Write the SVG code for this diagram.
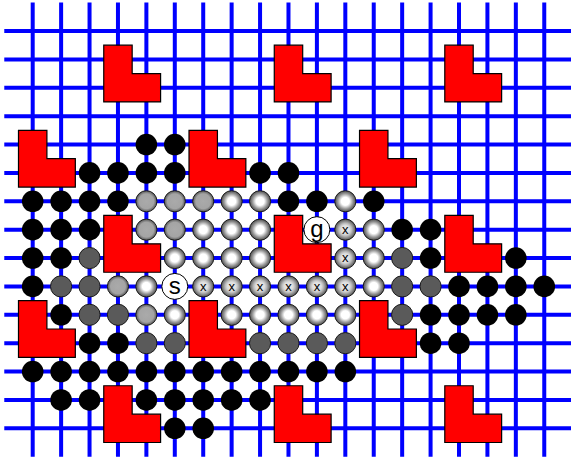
<svg xmlns="http://www.w3.org/2000/svg" xmlns:xlink="http://www.w3.org/1999/xlink" width="571" height="462" viewBox="0 0 571 462">
<style>
.grid{stroke:#0000ff;stroke-width:4;fill:none}
.wall{fill:#ff0000;stroke:#000;stroke-width:1.2;stroke-linejoin:miter}
.lbl{font-family:"Liberation Sans",Arial,sans-serif;fill:#000;text-anchor:middle}
.big{font-size:24px}
.sm{font-size:13px}
</style>
<defs>
<radialGradient id="gOpen" cx="0.5" cy="0.5" r="0.5">
<stop offset="0" stop-color="#fff"/>
<stop offset="0.38" stop-color="#fff"/>
<stop offset="0.52" stop-color="#d6d6d6"/>
<stop offset="0.68" stop-color="#a4a4a4"/>
<stop offset="0.82" stop-color="#7c7c7c"/>
<stop offset="0.93" stop-color="#616161"/>
<stop offset="1" stop-color="#4a4a4a"/>
</radialGradient>
<radialGradient id="gX" cx="0.5" cy="0.5" r="0.5">
<stop offset="0" stop-color="#eee"/>
<stop offset="0.42" stop-color="#dedede"/>
<stop offset="0.6" stop-color="#bcbcbc"/>
<stop offset="0.76" stop-color="#929292"/>
<stop offset="0.9" stop-color="#6c6c6c"/>
<stop offset="1" stop-color="#4a4a4a"/>
</radialGradient>
<radialGradient id="gLight" cx="0.5" cy="0.5" r="0.5">
<stop offset="0" stop-color="#aaa"/>
<stop offset="0.7" stop-color="#a4a4a4"/>
<stop offset="0.85" stop-color="#7c7c7c"/>
<stop offset="1" stop-color="#555"/>
</radialGradient>
<circle id="b" r="10.8" fill="#000"/>
<circle id="d" r="10.6" fill="#5a5a5a" stroke="#1a1a1a" stroke-width="1"/>
<circle id="l" r="10.6" fill="url(#gLight)" stroke="#1a1a1a" stroke-width="1"/>
<circle id="o" r="10.6" fill="url(#gOpen)" stroke="#1a1a1a" stroke-width="1"/>
<circle id="xn" r="10.6" fill="url(#gX)" stroke="#1a1a1a" stroke-width="1"/>
<path id="L" d="M0 0h28.42v28.38h28.42v28.38h-56.84z"/>
</defs>
<rect width="571" height="462" fill="#fff"/>
<g id="grid" class="grid">
<path d="M32.70 2.62V456.7M61.12 2.62V456.7M89.54 2.62V456.7M117.96 2.62V456.7M146.38 2.62V456.7M174.80 2.62V456.7M203.22 2.62V456.7M231.64 2.62V456.7M260.06 2.62V456.7M288.48 2.62V456.7M316.90 2.62V456.7M345.32 2.62V456.7M373.74 2.62V456.7M402.16 2.62V456.7M430.58 2.62V456.7M459.00 2.62V456.7M487.42 2.62V456.7M515.84 2.62V456.7M544.26 2.62V456.7"/>
<path d="M4.28 31.00H572.7M4.28 59.38H572.7M4.28 87.76H572.7M4.28 116.14H572.7M4.28 144.52H572.7M4.28 172.90H572.7M4.28 201.28H572.7M4.28 229.66H572.7M4.28 258.04H572.7M4.28 286.42H572.7M4.28 314.80H572.7M4.28 343.18H572.7M4.28 371.56H572.7M4.28 399.94H572.7M4.28 428.32H572.7"/>
</g>
<g id="black-nodes">
<use href="#b" x="146.38" y="144.52"/><use href="#b" x="174.80" y="144.52"/>
<use href="#b" x="89.54" y="172.90"/><use href="#b" x="117.96" y="172.90"/><use href="#b" x="146.38" y="172.90"/><use href="#b" x="174.80" y="172.90"/><use href="#b" x="260.06" y="172.90"/><use href="#b" x="288.48" y="172.90"/>
<use href="#b" x="32.70" y="201.28"/><use href="#b" x="61.12" y="201.28"/><use href="#b" x="89.54" y="201.28"/><use href="#b" x="117.96" y="201.28"/><use href="#b" x="288.48" y="201.28"/><use href="#b" x="316.90" y="201.28"/><use href="#b" x="373.74" y="201.28"/>
<use href="#b" x="32.70" y="229.66"/><use href="#b" x="61.12" y="229.66"/><use href="#b" x="89.54" y="229.66"/><use href="#b" x="402.16" y="229.66"/><use href="#b" x="430.58" y="229.66"/>
<use href="#b" x="32.70" y="258.04"/><use href="#b" x="61.12" y="258.04"/><use href="#b" x="430.58" y="258.04"/><use href="#b" x="515.84" y="258.04"/>
<use href="#b" x="32.70" y="286.42"/><use href="#b" x="459.00" y="286.42"/><use href="#b" x="487.42" y="286.42"/><use href="#b" x="515.84" y="286.42"/><use href="#b" x="544.26" y="286.42"/>
<use href="#b" x="61.12" y="314.80"/><use href="#b" x="430.58" y="314.80"/><use href="#b" x="459.00" y="314.80"/><use href="#b" x="487.42" y="314.80"/><use href="#b" x="515.84" y="314.80"/>
<use href="#b" x="89.54" y="343.18"/><use href="#b" x="117.96" y="343.18"/><use href="#b" x="430.58" y="343.18"/><use href="#b" x="459.00" y="343.18"/>
<use href="#b" x="32.70" y="371.56"/><use href="#b" x="61.12" y="371.56"/><use href="#b" x="89.54" y="371.56"/><use href="#b" x="117.96" y="371.56"/><use href="#b" x="146.38" y="371.56"/><use href="#b" x="174.80" y="371.56"/><use href="#b" x="203.22" y="371.56"/><use href="#b" x="231.64" y="371.56"/><use href="#b" x="260.06" y="371.56"/><use href="#b" x="288.48" y="371.56"/><use href="#b" x="316.90" y="371.56"/><use href="#b" x="345.32" y="371.56"/>
<use href="#b" x="61.12" y="399.94"/><use href="#b" x="89.54" y="399.94"/><use href="#b" x="146.38" y="399.94"/><use href="#b" x="174.80" y="399.94"/><use href="#b" x="203.22" y="399.94"/><use href="#b" x="231.64" y="399.94"/><use href="#b" x="260.06" y="399.94"/>
<use href="#b" x="174.80" y="428.32"/><use href="#b" x="203.22" y="428.32"/>
</g>
<g id="dark-nodes">
<use href="#d" x="89.54" y="258.04"/><use href="#d" x="402.16" y="258.04"/>
<use href="#d" x="61.12" y="286.42"/><use href="#d" x="89.54" y="286.42"/><use href="#d" x="402.16" y="286.42"/><use href="#d" x="430.58" y="286.42"/>
<use href="#d" x="89.54" y="314.80"/><use href="#d" x="117.96" y="314.80"/><use href="#d" x="402.16" y="314.80"/>
<use href="#d" x="146.38" y="343.18"/><use href="#d" x="174.80" y="343.18"/><use href="#d" x="260.06" y="343.18"/><use href="#d" x="288.48" y="343.18"/><use href="#d" x="316.90" y="343.18"/><use href="#d" x="345.32" y="343.18"/>
</g>
<g id="light-nodes">
<use href="#l" x="146.38" y="201.28"/><use href="#l" x="174.80" y="201.28"/><use href="#l" x="203.22" y="201.28"/>
<use href="#l" x="146.38" y="229.66"/><use href="#l" x="174.80" y="229.66"/>
<use href="#l" x="117.96" y="286.42"/>
<use href="#l" x="146.38" y="314.80"/>
</g>
<g id="open-nodes">
<use href="#o" x="231.64" y="201.28"/><use href="#o" x="260.06" y="201.28"/><use href="#o" x="345.32" y="201.28"/>
<use href="#o" x="203.22" y="229.66"/><use href="#o" x="231.64" y="229.66"/><use href="#o" x="260.06" y="229.66"/><use href="#o" x="373.74" y="229.66"/>
<use href="#o" x="174.80" y="258.04"/><use href="#o" x="203.22" y="258.04"/><use href="#o" x="231.64" y="258.04"/><use href="#o" x="260.06" y="258.04"/><use href="#o" x="373.74" y="258.04"/>
<use href="#o" x="146.38" y="286.42"/><use href="#o" x="373.74" y="286.42"/>
<use href="#o" x="174.80" y="314.80"/><use href="#o" x="231.64" y="314.80"/><use href="#o" x="260.06" y="314.80"/><use href="#o" x="288.48" y="314.80"/><use href="#o" x="316.90" y="314.80"/><use href="#o" x="345.32" y="314.80"/>
</g>
<g id="closed-nodes">
<use href="#xn" x="345.32" y="229.66"/><use href="#xn" x="345.32" y="258.04"/>
<use href="#xn" x="203.22" y="286.42"/><use href="#xn" x="231.64" y="286.42"/><use href="#xn" x="260.06" y="286.42"/><use href="#xn" x="288.48" y="286.42"/><use href="#xn" x="316.90" y="286.42"/><use href="#xn" x="345.32" y="286.42"/>
<g class="lbl sm">
<text x="345.32" y="233.8">x</text><text x="345.32" y="262.2">x</text>
<text x="203.22" y="290.6">x</text><text x="231.64" y="290.6">x</text><text x="260.06" y="290.6">x</text><text x="288.48" y="290.6">x</text><text x="316.90" y="290.6">x</text><text x="345.32" y="290.6">x</text>
</g>
</g>
<g id="start">
<circle cx="174.80" cy="286.42" r="13" fill="#fff" stroke="#000" stroke-width="1"/>
<text class="lbl big" x="174.80" y="294">s</text>
</g>
<g id="goal">
<circle cx="316.90" cy="229.66" r="13" fill="#fff" stroke="#000" stroke-width="1"/>
<text class="lbl big" x="316.90" y="236.5">g</text>
</g>
<g id="walls" class="wall">
<use href="#L" x="103.75" y="45.19"/><use href="#L" x="274.27" y="45.19"/><use href="#L" x="444.79" y="45.19"/>
<use href="#L" x="18.49" y="130.33"/><use href="#L" x="189.01" y="130.33"/><use href="#L" x="359.53" y="130.33"/>
<use href="#L" x="103.75" y="215.47"/><use href="#L" x="274.27" y="215.47"/><use href="#L" x="444.79" y="215.47"/>
<use href="#L" x="18.49" y="300.61"/><use href="#L" x="189.01" y="300.61"/><use href="#L" x="359.53" y="300.61"/>
<use href="#L" x="103.75" y="385.75"/><use href="#L" x="274.27" y="385.75"/><use href="#L" x="444.79" y="385.75"/>
</g>
</svg>
